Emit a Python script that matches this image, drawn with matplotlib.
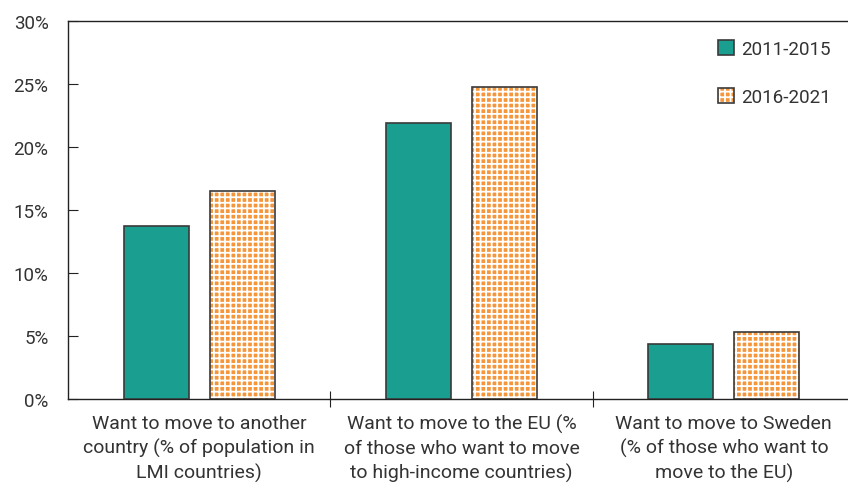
import numpy as np
import matplotlib
matplotlib.use("Agg")
import matplotlib.pyplot as plt
from matplotlib.patches import Patch

# Data
categories = [
    "Want to move to another\ncountry (% of population in\nLMI countries)",
    "Want to move to the EU (%\nof those who want to move\nto high-income countries)",
    "Want to move to Sweden\n(% of those who want to\nmove to the EU)",
]
series_names = ["2011-2015", "2016-2021"]
vals_2011_2015 = [13.7, 21.9, 4.4]
vals_2016_2021 = [16.5, 24.8, 5.3]

teal = "#1a9e8f"
orange = "#f5963a"
edge = "#3a3a3a"
txt = "#333333"

plt.rcParams["font.family"] = ["Roboto", "DejaVu Sans"]
plt.rcParams["hatch.linewidth"] = 1.3

fig = plt.figure(figsize=(8.48, 4.89), dpi=100)
ax = fig.add_axes([68 / 848, 1 - 400 / 489, 1 - 68 / 848, (400 - 22) / 489])

x = np.arange(len(categories))
off = 0.164
w = 0.248

ax.bar(x - off, vals_2011_2015, w, color=teal, edgecolor=edge, linewidth=1.2, zorder=3)
# hatched fill (white grid over orange), then outline on top
ax.bar(x + off, vals_2016_2021, w, color=orange, edgecolor="white", hatch="+++",
       linewidth=0, zorder=3)
ax.bar(x + off, vals_2016_2021, w, fill=False, edgecolor=edge, linewidth=1.2, zorder=4)

ax.set_xlim(-0.5, 2.5 - 7 / 262)
ax.set_ylim(0, 30)
ax.set_yticks(np.arange(0, 31, 5))
ax.set_yticklabels([f"{v}%" for v in range(0, 31, 5)])
ax.set_xticks([0.5, 1.5])
ax.set_xticklabels([])
ax.set_xticks(x, minor=True)
ax.set_xticklabels(categories, minor=True, linespacing=1.38)

for s in ["left", "bottom", "top"]:
    ax.spines[s].set_color("#222222")
    ax.spines[s].set_linewidth(1.0)
ax.spines["right"].set_visible(False)

ax.tick_params(axis="y", direction="in", length=7, colors="#222222",
               labelcolor=txt, labelsize=13.5, pad=14)
ax.tick_params(axis="x", which="major", direction="inout", length=12, colors="#222222")
ax.tick_params(axis="x", which="minor", length=0, labelcolor=txt, labelsize=14, pad=11)

h1 = Patch(facecolor=teal, edgecolor=edge, linewidth=1.2)
h2_fill = Patch(facecolor=orange, edgecolor="white", hatch="+++", linewidth=0)
h2_line = Patch(fill=False, edgecolor=edge, linewidth=1.2)
leg = ax.legend([h1, (h2_fill, h2_line)], series_names, loc="upper right", frameon=False,
                fontsize=13.5, labelspacing=1.6, handlelength=0.85, handleheight=0.85,
                handletextpad=0.4, bbox_to_anchor=(1.0, 0.995))
for t in leg.get_texts():
    t.set_color(txt)

fig.savefig("out.png", dpi=100)
